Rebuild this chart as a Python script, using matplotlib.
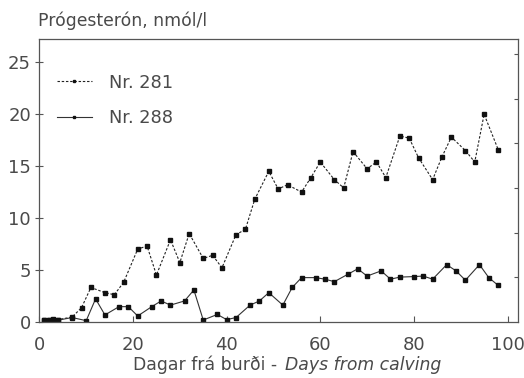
import matplotlib
matplotlib.use("Agg")
import matplotlib.pyplot as plt
import numpy as np

# Data
days_281 = [1, 2, 3, 4, 7, 9, 11, 14, 16, 18, 21, 23, 25, 28, 30, 32, 35, 37, 39, 42,
            44, 46, 49, 51, 53, 56, 58, 60, 63, 65, 67, 70, 72, 74, 77, 79, 81, 84,
            86, 88, 91, 93, 95, 98]
vals_281 = [0.2, 0.2, 0.25, 0.2, 0.45, 1.35, 3.3, 2.8, 2.6, 3.8, 7.0, 7.3, 4.5, 7.9,
            5.7, 8.5, 6.1, 6.4, 5.2, 8.4, 8.9, 11.8, 14.5, 12.8, 13.2, 12.5, 13.9,
            15.4, 13.7, 12.9, 16.4, 14.75, 15.4, 13.9, 17.9, 17.7, 15.8, 13.7, 15.9,
            17.8, 16.5, 15.4, 20.0, 16.6]

days_288 = [1, 2, 3, 4, 7, 10, 12, 14, 17, 19, 21, 24, 26, 28, 31, 33, 35, 38, 40, 42,
            45, 47, 49, 52, 54, 56, 59, 61, 63, 66, 68, 70, 73, 75, 77, 80, 82, 84,
            87, 89, 91, 94, 96, 98]
vals_288 = [0.15, 0.15, 0.15, 0.15, 0.4, 0.1, 2.2, 0.65, 1.45, 1.45, 0.55, 1.45, 2.0,
            1.6, 2.0, 3.06, 0.16, 0.7, 0.2, 0.4, 1.6, 2.0, 2.8, 1.6, 3.3, 4.25, 4.25,
            4.1, 3.86, 4.6, 5.1, 4.4, 4.9, 4.1, 4.3, 4.35, 4.4, 4.1, 5.5, 4.9, 4.0,
            5.5, 4.25, 3.5]

labels = ["Nr. 281", "Nr. 288"]
x_ticks = [0, 20, 40, 60, 80, 100]
y_ticks = [0, 5, 10, 15, 20, 25]
title = "Prógesterón, nmól/l"
xlabel_plain = "Dagar frá burði - "
xlabel_italic = "Days from calving"

W, H = 524, 378
plt.rcParams['font.family'] = ['DejaVu Sans']
txt_color = '#4a4a4a'
ax_color = '#555555'

fig = plt.figure(figsize=(W / 100, H / 100), dpi=100)
left, right, bottom, top = 39.4, 518.3, 321.7, 39.3
ax = fig.add_axes([left / W, 1 - bottom / H, (right - left) / W, (bottom - top) / H])

l1, = ax.plot(days_281, vals_281, color='#222222', lw=0.8, dashes=(2.2, 1.6),
              marker='s', markersize=3.0, markerfacecolor='#111111',
              markeredgecolor='#111111', label=labels[0])
l2, = ax.plot(days_288, vals_288, color='#333333', lw=0.8, linestyle='-',
              marker='s', markersize=2.8, markerfacecolor='#111111',
              markeredgecolor='#111111', label=labels[1])

ax.set_xlim(0, 102.3)
ax.set_ylim(0, 27.23)
ax.set_xticks(x_ticks)
ax.set_yticks(y_ticks)
ax.tick_params(axis='x', direction='in', length=4, width=0.8, colors=ax_color,
               labelcolor=txt_color, labelsize=13, pad=10)
ax.tick_params(axis='y', direction='inout', length=6, width=0.8, colors=ax_color,
               labelcolor=txt_color, labelsize=13, pad=3)
for s in ax.spines.values():
    s.set_color(ax_color)
    s.set_linewidth(0.9)

# right-hand ticks (unlabelled)
axr = ax.twinx()
axr.set_ylim(ax.get_ylim())
axr.set_yticks([4.3 * k for k in range(1, 7)])
axr.tick_params(axis='y', direction='in', length=3, width=0.8, colors=ax_color,
                labelright=False)
for s in axr.spines.values():
    s.set_visible(False)

leg = ax.legend(handles=[l1, l2], loc='upper left',
                bbox_to_anchor=(56.7 / W, 1 - 73.6 / H), bbox_transform=fig.transFigure,
                frameon=False, fontsize=12.8, handlelength=2.0, handletextpad=0.95,
                labelspacing=1.0, borderpad=0, borderaxespad=0, numpoints=1,
                labelcolor=txt_color)
for h in leg.legend_handles:
    h.set_markersize(2)

fig.text(38 / W, 1 - 21 / H, title, ha='left', va='center', fontsize=12.4, color=txt_color)
fig.text(283 / W, 1 - 365 / H, xlabel_plain, ha='right', va='center', fontsize=12.4,
         color=txt_color)
fig.text(285 / W, 1 - 365 / H, xlabel_italic, ha='left', va='center', fontsize=12.4,
         color=txt_color, style='italic')

fig.savefig('out.png', dpi=100)
